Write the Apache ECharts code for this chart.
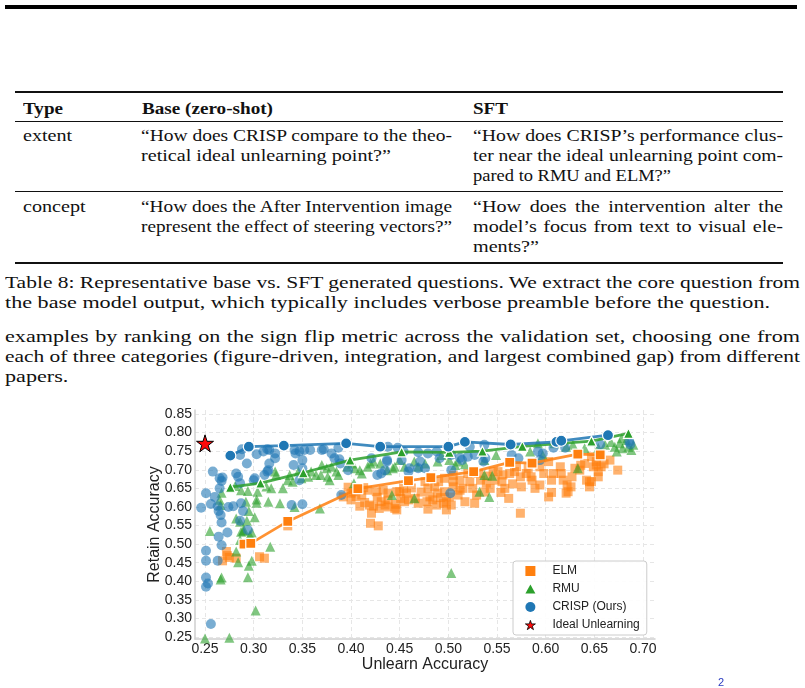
<!DOCTYPE html>
<html>
<head>
<meta charset="utf-8">
<script src="https://cdn.jsdelivr.net/npm/echarts@6/dist/echarts.min.js"></script>
<style>
  html, body { margin: 0; padding: 0; background: #fff; }
  body { width: 805px; height: 688px; position: relative; overflow: hidden; }
  .ln { position: absolute; white-space: nowrap; font-family: 'Liberation Serif', 'DejaVu Serif', serif;
        font-size: 17.3px; line-height: 20px; color: #111; transform-origin: 0 0; }
  .b { font-weight: bold; }
  .rule { position: absolute; background: #111; }
  #chart { position: absolute; left: 0; top: 400px; width: 805px; height: 288px; }
</style>
</head>
<body>
<div class="rule" style="left:5px;top:5px;width:792px;height:3.5px;background:#000"></div>

<div class="rule" style="left:15px;top:91px;width:768px;height:1.6px"></div>
<div class="ln b" style="left:23px;top:99px" data-fit="40">Type</div>
<div class="ln b" style="left:142px;top:99px" data-fit="131">Base (zero-shot)</div>
<div class="ln b" style="left:473px;top:99px" data-fit="35">SFT</div>
<div class="rule" style="left:15px;top:121px;width:768px;height:1px"></div>

<div class="ln" data-g="t" style="left:23px;top:126px">extent</div>
<div class="ln" data-g="t" style="left:141px;top:126px" data-w="311">“How does CRISP compare to the theo-</div>
<div class="ln" data-g="t" id="refT" style="left:141px;top:146px">retical ideal unlearning point?”</div>
<div class="ln" data-g="t" style="left:473px;top:126px" data-w="310">“How does CRISP’s performance clus-</div>
<div class="ln" data-g="t" style="left:473px;top:146px" data-w="310">ter near the ideal unlearning point com-</div>
<div class="ln" data-g="t" style="left:473px;top:166px" data-fit="198">pared to RMU and ELM?”</div>
<div class="rule" style="left:15px;top:191px;width:768px;height:1px"></div>

<div class="ln" data-g="t" style="left:23px;top:197px">concept</div>
<div class="ln" data-g="t" style="left:141px;top:197px" data-w="311">“How does the After Intervention image</div>
<div class="ln" data-g="t" style="left:141px;top:217px" data-w="311">represent the effect of steering vectors?”</div>
<div class="ln" data-g="t" style="left:473px;top:197px" data-w="310">“How does the intervention alter the</div>
<div class="ln" data-g="t" style="left:473px;top:217px" data-w="310">model’s focus from text to visual ele-</div>
<div class="ln" data-g="t" style="left:473px;top:237px">ments?”</div>
<div class="rule" style="left:15px;top:262px;width:768px;height:1.6px"></div>

<div class="ln" data-g="c" style="left:5px;top:273px" data-w="795">Table 8: Representative base vs. SFT generated questions. We extract the core question from</div>
<div class="ln" data-g="c" id="refC" style="left:5px;top:293px">the base model output, which typically includes verbose preamble before the question.</div>

<div class="ln" data-g="c" style="left:5px;top:327px" data-w="795">examples by ranking on the sign flip metric across the validation set, choosing one from</div>
<div class="ln" data-g="c" style="left:5px;top:347px" data-w="795">each of three categories (figure-driven, integration, and largest combined gap) from different</div>
<div class="ln" data-g="c" style="left:5px;top:367px">papers.</div>

<div id="chart"></div>
<div style="position:absolute;left:718px;top:676px;font:11px 'Liberation Sans',sans-serif;color:#2a3bc0">2</div>

<script>
// text lines: stretch the serif lines so they span like the original Palatino
const scaleFor = {
  t: 250 / document.getElementById('refT').getBoundingClientRect().width,
  c: 765 / document.getElementById('refC').getBoundingClientRect().width
}
document.querySelectorAll('.ln').forEach(el => {
  const nat = el.getBoundingClientRect().width
  if (el.dataset.fit) {
    el.style.transform = 'scaleX(' + (+el.dataset.fit / nat) + ')'
    return
  }
  const k = scaleFor[el.dataset.g]
  let s = k
  if (el.dataset.w) {
    const w = +el.dataset.w
    s = Math.min(k, w / nat)
    el.style.width = (w / s) + 'px'
    el.style.textAlign = 'justify'
    el.style.textAlignLast = 'justify'
  }
  el.style.transform = 'scaleX(' + s + ')'
})

// ---- chart data ----
const xRange = [0.2397, 0.7123]
const yRange = [0.2446, 0.8608]
const tickStep = 0.05

const idealPoint = [[0.250, 0.771]]

const elmFront = [[0.290, 0.500], [0.297, 0.502], [0.335, 0.561], [0.407, 0.649], [0.459, 0.671],
  [0.482, 0.679], [0.526, 0.695], [0.563, 0.720], [0.586, 0.718], [0.633, 0.742], [0.656, 0.740]]

const rmuFront = [[0.276, 0.653], [0.307, 0.664], [0.351, 0.692], [0.399, 0.726], [0.452, 0.748],
  [0.501, 0.747], [0.535, 0.750], [0.576, 0.763], [0.647, 0.777], [0.685, 0.798]]

const crispFront = [[0.276, 0.738], [0.295, 0.762], [0.331, 0.765], [0.395, 0.771], [0.430, 0.762],
  [0.500, 0.762], [0.517, 0.775], [0.564, 0.768], [0.611, 0.775], [0.616, 0.778], [0.664, 0.793]]

const elmPts = [
  [0.268, 0.455], [0.272, 0.480], [0.273, 0.469], [0.275, 0.464], [0.282, 0.462], [0.306, 0.466], [0.311, 0.462],
  [0.335, 0.549], [0.409, 0.602], [0.423, 0.602], [0.420, 0.556], [0.447, 0.641], [0.402, 0.641], [0.438, 0.600], [0.397, 0.653],
  [0.400, 0.637], [0.400, 0.619], [0.411, 0.632], [0.417, 0.645], [0.426, 0.641], [0.419, 0.605], [0.429, 0.596], [0.435, 0.605],
  [0.438, 0.619], [0.431, 0.614], [0.438, 0.637], [0.450, 0.641], [0.457, 0.637], [0.459, 0.619], [0.447, 0.592], [0.421, 0.583],
  [0.428, 0.549], [0.479, 0.650], [0.476, 0.668], [0.481, 0.627], [0.484, 0.619], [0.489, 0.637], [0.496, 0.641], [0.501, 0.627],
  [0.495, 0.610], [0.488, 0.605], [0.479, 0.594], [0.505, 0.668], [0.496, 0.677], [0.503, 0.605], [0.446, 0.607], [0.469, 0.610],
  [0.451, 0.623], [0.445, 0.596], [0.454, 0.650], [0.466, 0.623], [0.455, 0.614], [0.478, 0.614], [0.486, 0.654], [0.490, 0.668],
  [0.498, 0.614], [0.498, 0.592], [0.505, 0.654], [0.510, 0.632], [0.515, 0.650], [0.517, 0.614], [0.522, 0.668], [0.529, 0.632],
  [0.533, 0.672], [0.539, 0.664], [0.543, 0.650], [0.551, 0.695], [0.555, 0.668], [0.558, 0.650], [0.562, 0.623], [0.563, 0.690],
  [0.570, 0.708], [0.574, 0.681], [0.582, 0.704], [0.586, 0.672], [0.589, 0.650], [0.594, 0.659], [0.594, 0.708], [0.603, 0.722],
  [0.606, 0.672], [0.608, 0.690], [0.615, 0.708], [0.622, 0.659], [0.623, 0.641], [0.627, 0.681], [0.630, 0.704], [0.635, 0.699],
  [0.640, 0.717], [0.642, 0.672], [0.645, 0.654], [0.649, 0.708], [0.654, 0.681], [0.652, 0.722], [0.666, 0.726], [0.674, 0.699],
  [0.574, 0.583], [0.603, 0.627], [0.554, 0.639], [0.575, 0.654], [0.606, 0.639], [0.621, 0.637], [0.626, 0.654], [0.645, 0.668],
  [0.585, 0.681], [0.568, 0.695], [0.556, 0.686], [0.546, 0.695], [0.647, 0.735], [0.652, 0.713], [0.657, 0.708], [0.654, 0.695],
  [0.647, 0.668], [0.405, 0.628], [0.414, 0.612], [0.427, 0.626], [0.433, 0.645], [0.512, 0.672], [0.525, 0.650], [0.531, 0.690],
  [0.540, 0.683], [0.548, 0.672], [0.520, 0.690], [0.505, 0.685], [0.392, 0.627], [0.413, 0.652], [0.462, 0.651], [0.472, 0.640],
  [0.492, 0.625], [0.512, 0.645], [0.527, 0.610], [0.537, 0.640], [0.566, 0.662], [0.580, 0.690], [0.598, 0.690], [0.616, 0.690],
  [0.636, 0.712], [0.660, 0.716], [0.618, 0.672]
]

const rmuPts = [
  [0.267, 0.638], [0.266, 0.605], [0.265, 0.619], [0.255, 0.535], [0.281, 0.656], [0.287, 0.645], [0.294, 0.643], [0.292, 0.614],
  [0.303, 0.611], [0.282, 0.569], [0.286, 0.560], [0.287, 0.533], [0.304, 0.641], [0.315, 0.614], [0.318, 0.650], [0.313, 0.655],
  [0.322, 0.695], [0.323, 0.686], [0.327, 0.610], [0.330, 0.650], [0.335, 0.672], [0.337, 0.686], [0.340, 0.668], [0.342, 0.600],
  [0.346, 0.695], [0.349, 0.677], [0.356, 0.681], [0.359, 0.695], [0.364, 0.686], [0.293, 0.563], [0.290, 0.538], [0.298, 0.531],
  [0.317, 0.493], [0.303, 0.620], [0.295, 0.589], [0.301, 0.572], [0.368, 0.596], [0.378, 0.672], [0.387, 0.686], [0.396, 0.708],
  [0.401, 0.717], [0.409, 0.699], [0.420, 0.717], [0.430, 0.717], [0.437, 0.699], [0.442, 0.632], [0.403, 0.664], [0.370, 0.713],
  [0.375, 0.704], [0.380, 0.708], [0.385, 0.695], [0.369, 0.686], [0.376, 0.681], [0.404, 0.704], [0.411, 0.690], [0.417, 0.708],
  [0.423, 0.722], [0.445, 0.708], [0.450, 0.726], [0.455, 0.708], [0.465, 0.722], [0.469, 0.708], [0.476, 0.717], [0.489, 0.722],
  [0.501, 0.726], [0.507, 0.713], [0.465, 0.623], [0.510, 0.722], [0.517, 0.715], [0.537, 0.726], [0.549, 0.740], [0.537, 0.686],
  [0.545, 0.684], [0.532, 0.641], [0.542, 0.627], [0.584, 0.749], [0.592, 0.771], [0.597, 0.740], [0.609, 0.771], [0.621, 0.762],
  [0.628, 0.767], [0.633, 0.704], [0.640, 0.758], [0.667, 0.775], [0.671, 0.762], [0.673, 0.749], [0.676, 0.771], [0.678, 0.785],
  [0.679, 0.758], [0.683, 0.780], [0.685, 0.762], [0.688, 0.753], [0.690, 0.767], [0.661, 0.767], [0.654, 0.759], [0.286, 0.511],
  [0.282, 0.480], [0.284, 0.451], [0.267, 0.410], [0.266, 0.405], [0.294, 0.411], [0.295, 0.442], [0.298, 0.455], [0.302, 0.321],
  [0.250, 0.246], [0.275, 0.248], [0.289, 0.535], [0.296, 0.524], [0.503, 0.422], [0.493, 0.740], [0.443, 0.704]
]

const crispPts = [
  [0.246, 0.598], [0.251, 0.637], [0.258, 0.695], [0.256, 0.608], [0.260, 0.627], [0.263, 0.602], [0.264, 0.589], [0.266, 0.578],
  [0.267, 0.558], [0.267, 0.670], [0.268, 0.679], [0.265, 0.650], [0.273, 0.531], [0.274, 0.600], [0.279, 0.602], [0.284, 0.681],
  [0.282, 0.690], [0.293, 0.717], [0.286, 0.740], [0.288, 0.755], [0.286, 0.664], [0.287, 0.610], [0.289, 0.589], [0.286, 0.563],
  [0.294, 0.538], [0.303, 0.742], [0.301, 0.677], [0.310, 0.749], [0.314, 0.755], [0.311, 0.686], [0.315, 0.699], [0.316, 0.717],
  [0.322, 0.744], [0.316, 0.753], [0.322, 0.731], [0.339, 0.605], [0.350, 0.607], [0.342, 0.753], [0.343, 0.744], [0.347, 0.750],
  [0.352, 0.753], [0.358, 0.753], [0.341, 0.713], [0.347, 0.672], [0.251, 0.482], [0.251, 0.455], [0.263, 0.455], [0.251, 0.410],
  [0.253, 0.394], [0.251, 0.385], [0.256, 0.285], [0.264, 0.520], [0.267, 0.497], [0.265, 0.677], [0.314, 0.695], [0.300, 0.672],
  [0.350, 0.726], [0.350, 0.704], [0.380, 0.744], [0.370, 0.753], [0.389, 0.717], [0.397, 0.699], [0.427, 0.686], [0.437, 0.726],
  [0.372, 0.755], [0.387, 0.759], [0.383, 0.731], [0.388, 0.728], [0.421, 0.731], [0.431, 0.690], [0.435, 0.699], [0.452, 0.726],
  [0.460, 0.704], [0.469, 0.704], [0.476, 0.704], [0.454, 0.749], [0.469, 0.747], [0.479, 0.744], [0.488, 0.749], [0.491, 0.731],
  [0.503, 0.740], [0.390, 0.632], [0.438, 0.762], [0.448, 0.759], [0.437, 0.722], [0.459, 0.695], [0.471, 0.722], [0.503, 0.699],
  [0.514, 0.726], [0.502, 0.637], [0.536, 0.722], [0.522, 0.762], [0.512, 0.732], [0.520, 0.735], [0.527, 0.740], [0.537, 0.767],
  [0.538, 0.731], [0.565, 0.740], [0.572, 0.731], [0.592, 0.749], [0.597, 0.744], [0.594, 0.726], [0.608, 0.759], [0.620, 0.759],
  [0.656, 0.768], [0.686, 0.775], [0.687, 0.768]
]

const seriesNames = ['ELM', 'RMU', 'CRISP (Ours)', 'Ideal Unlearning']
const colors = { elm: '#ff7f0e', rmu: '#2ca02c', crisp: '#1f77b4', star: '#ff0a0a' }
const starPath = 'path://M50,0L61.8,35.1L100,35.1L69.1,57.3L80.9,92.7L50,70.8L19.1,92.7L30.9,57.3L0,35.1L38.2,35.1Z'
const icons = {
  square: 'path://M0,0H10V10H0Z',
  triangle: 'path://M5,0L10,9H0Z',
  circle: 'path://M0,5A5,5,0,1,1,10,5A5,5,0,1,1,0,5Z'
}
const sans = "'Liberation Sans', Arial, sans-serif"

const tickFmt = v => Math.abs(v / tickStep - Math.round(v / tickStep)) < 1e-6 ? v.toFixed(2) : ''

function cloud(name, data, symbol, size, color) {
  return {
    name, type: 'scatter', data, symbol, symbolSize: size, clip: false, silent: true,
    itemStyle: { color, opacity: 0.6 }
  }
}
function front(data, symbol, size, color) {
  return {
    name: 'front', type: 'line', data, symbol, symbolSize: size, showSymbol: true, silent: true,
    lineStyle: { color, width: 2.8, opacity: 0.85 },
    itemStyle: { color, borderColor: '#fff', borderWidth: 1.2, opacity: 1 }
  }
}

function axisCommon(range) {
  return {
    type: 'value', min: range[0], max: range[1], minInterval: tickStep, maxInterval: tickStep,
    axisLine: { show: true, onZero: false, lineStyle: { color: '#cfcfcf', width: 1.5 } },
    axisTick: { show: false },
    splitLine: { show: true, showMinLine: false, showMaxLine: false,
      lineStyle: { color: '#e6e6e6', width: 1, type: [4, 3] } },
    nameLocation: 'middle', nameMoveOverlap: false,
    nameTextStyle: { fontSize: 16, color: '#222', fontFamily: sans }
  }
}

const chart = echarts.init(document.getElementById('chart'), null, { renderer: 'canvas' })
chart.setOption({
  animation: false,
  grid: { left: 195, right: 150, top: 10, bottom: 49 },
  xAxis: Object.assign(axisCommon(xRange), {
    name: 'Unlearn Accuracy', nameGap: 18,
    axisLabel: { fontSize: 14, color: '#222', fontFamily: sans, margin: 3, formatter: tickFmt,
      showMinLabel: false, showMaxLabel: false }
  }),
  yAxis: Object.assign(axisCommon(yRange), {
    name: 'Retain Accuracy', nameGap: 32,
    axisLabel: { fontSize: 14, color: '#222', fontFamily: sans, margin: 3, formatter: tickFmt,
      showMinLabel: false, showMaxLabel: false }
  }),
  legend: {
    orient: 'vertical', left: 513, top: 161,
    itemWidth: 10, itemHeight: 10, itemGap: 6,
    padding: [4, 7, 4, 12],
    backgroundColor: 'rgba(255,255,255,0.9)', borderColor: '#cccccc', borderWidth: 1, borderRadius: 3,
    formatter: name => '{g| }' + name,
    textStyle: { fontSize: 12, color: '#222', fontFamily: sans, rich: { g: { width: 12 } } },
    data: [
      { name: seriesNames[0], icon: icons.square, itemStyle: { color: colors.elm, opacity: 1 } },
      { name: seriesNames[1], icon: icons.triangle, itemStyle: { color: colors.rmu, opacity: 1 } },
      { name: seriesNames[2], icon: icons.circle, itemStyle: { color: colors.crisp, opacity: 1 } },
      { name: seriesNames[3], icon: starPath, itemStyle: { color: colors.star, borderColor: '#000', borderWidth: 0.8, opacity: 1 } }
    ]
  },
  series: [
    cloud(seriesNames[0], elmPts, 'rect', 9, colors.elm),
    cloud(seriesNames[1], rmuPts, 'triangle', 10, colors.rmu),
    cloud(seriesNames[2], crispPts, 'circle', 10, colors.crisp),
    front(elmFront, 'rect', 10, colors.elm),
    front(rmuFront, 'triangle', 10, colors.rmu),
    front(crispFront, 'circle', 11, colors.crisp),
    {
      name: seriesNames[3], type: 'scatter', data: idealPoint, symbol: starPath, symbolSize: 17, clip: false, silent: true,
      itemStyle: { color: colors.star, borderColor: '#000', borderWidth: 1, opacity: 1 }, z: 5
    }
  ]
})
</script>
</body>
</html>
